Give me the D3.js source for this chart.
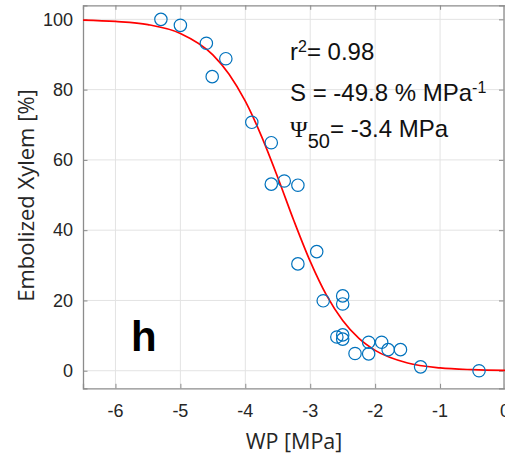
<!DOCTYPE html>
<html>
<head>
<meta charset="utf-8">
<script src="https://cdn.jsdelivr.net/npm/d3@7"></script>
<style>
  body { margin: 0; background: #fff; }
  svg { display: block; }
</style>
</head>
<body>
<script>
// measured points (water potential vs embolized xylem)
var wp = [-5.3, -5.0, -4.6, -4.3, -4.51, -3.9, -3.6, -3.6, -3.4, -3.19, -3.19, -2.9, -2.8, -2.5, -2.5,
          -2.59, -2.5, -2.5, -2.31, -2.1, -2.1, -1.9, -1.8, -1.61, -1.3, -0.4];
var plc = [100, 98.3, 93.2, 88.8, 83.7, 70.7, 64.9, 53.1, 54.0, 52.8, 30.4, 33.9, 19.9, 21.3, 19.0,
           9.6, 10.2, 9.0, 4.9, 8.1, 4.8, 8.1, 6.0, 6.0, 1.1, 0];

// fitted curve
var fitX = [-6.5, -6, -5.5, -5, -4.5, -4.25, -4, -3.75, -3.5, -3.25, -3, -2.75, -2.5, -2.25, -2, -1.5, -1, -0.5, 0];
var fitY = [99.8, 99.4, 98.5, 96.0, 89.9, 84.4, 76.7, 66.7, 55.0, 42.6, 31.1, 21.5, 14.3, 9.2, 5.8, 2.2, 0.8, 0.3, 0.1];

var xTicks = [-6, -5, -4, -3, -2, -1, 0];
var yTicks = [0, 20, 40, 60, 80, 100];

var W = 505, H = 454;
var plotL = 83, plotR = 505, plotT = 5.3, plotB = 388.3;
var axisCol = "#8c8c8c", textCol = "#262626";

var svg = d3.select("body").append("svg")
    .attr("width", W)
    .attr("height", H)
    .style("font-family", "'Liberation Sans', Arial, sans-serif");

var x = d3.scaleLinear().domain([-6.5, 0]).range([plotL, plotR]);
var y = d3.scaleLinear().domain([-5, 104]).range([plotB, plotT]);

// grid
svg.append("g").selectAll("line")
    .data(xTicks)
    .enter().append("line")
    .attr("x1", function (d) { return x(d); })
    .attr("x2", function (d) { return x(d); })
    .attr("y1", plotT)
    .attr("y2", plotB)
    .attr("stroke", "#e3e3e3")
    .attr("stroke-width", 1);

svg.append("g").selectAll("line")
    .data(yTicks)
    .enter().append("line")
    .attr("x1", plotL)
    .attr("x2", plotR)
    .attr("y1", function (d) { return y(d); })
    .attr("y2", function (d) { return y(d); })
    .attr("stroke", "#e3e3e3")
    .attr("stroke-width", 1);

// axes (ticks pointing inward, box on)
var xAxisB = d3.axisTop(x).tickValues(xTicks).tickSize(4.5).tickFormat("");
var xAxisT = d3.axisBottom(x).tickValues(xTicks).tickSize(4.5).tickFormat("");
var yAxisL = d3.axisRight(y).tickValues(yTicks).tickSize(4.5).tickFormat("");
var yAxisR = d3.axisLeft(y).tickValues(yTicks).tickSize(4.5).tickFormat("");

function styleAxis(g) {
    g.selectAll("path").attr("stroke", axisCol).attr("stroke-width", 1.3);
    g.selectAll("line").attr("stroke", axisCol).attr("stroke-width", 1);
}

svg.append("g").attr("transform", "translate(0," + plotB + ")").call(xAxisB).call(styleAxis);
svg.append("g").attr("transform", "translate(0," + plotT + ")").call(xAxisT).call(styleAxis);
svg.append("g").attr("transform", "translate(" + plotL + ",0)").call(yAxisL).call(styleAxis);
svg.append("g").attr("transform", "translate(" + (plotR - 1.5) + ",0)").call(yAxisR).call(styleAxis);

// tick labels
svg.append("g").selectAll("text")
    .data(xTicks)
    .enter().append("text")
    .attr("x", function (d) { return x(d); })
    .attr("y", plotB + 29)
    .attr("text-anchor", "middle")
    .attr("font-size", 18)
    .attr("fill", textCol)
    .text(function (d) { return d; });

svg.append("g").selectAll("text")
    .data(yTicks)
    .enter().append("text")
    .attr("x", plotL - 10)
    .attr("y", function (d) { return y(d) + 6.3; })
    .attr("text-anchor", "end")
    .attr("font-size", 18)
    .attr("fill", textCol)
    .text(function (d) { return d; });

// axis titles
svg.append("text")
    .attr("x", (plotL + plotR) / 2)
    .attr("y", 449)
    .attr("text-anchor", "middle")
    .attr("font-family", "'Open Sans', sans-serif")
    .attr("font-size", 21.5)
    .attr("fill", textCol)
    .text("WP [MPa]");

svg.append("text")
    .attr("transform", "translate(33.5,195.5) rotate(-90)")
    .attr("text-anchor", "middle")
    .attr("font-family", "'Open Sans', sans-serif")
    .attr("font-size", 22)
    .attr("fill", textCol)
    .text("Embolized Xylem [%]");

// fitted curve
svg.append("clipPath").attr("id", "plotclip")
    .append("rect")
    .attr("x", plotL).attr("y", plotT)
    .attr("width", plotR - plotL).attr("height", plotB - plotT);

var line = d3.line()
    .x(function (d, i) { return x(fitX[i]); })
    .y(function (d, i) { return y(fitY[i]); })
    .curve(d3.curveMonotoneX);

svg.append("path")
    .attr("d", line(fitX))
    .attr("fill", "none")
    .attr("stroke", "#ff0000")
    .attr("stroke-width", 1.7)
    .attr("clip-path", "url(#plotclip)");

// data points
svg.append("g").selectAll("circle")
    .data(wp)
    .enter().append("circle")
    .attr("cx", function (d) { return x(d); })
    .attr("cy", function (d, i) { return y(plc[i]); })
    .attr("r", 6.2)
    .attr("fill", "none")
    .attr("stroke", "#0072bd")
    .attr("stroke-width", 1.2);

// annotations
var ann = svg.append("g").attr("fill", "#111").attr("font-size", 24);

var t1 = ann.append("text").attr("x", 290).attr("y", 60);
t1.append("tspan").text("r");
t1.append("tspan").attr("dy", -8).attr("font-size", 16).text("2");
t1.append("tspan").attr("dy", 8).text("= 0.98");

var t2 = ann.append("text").attr("x", 290).attr("y", 101);
t2.append("tspan").text("S = -49.8 % MPa");
t2.append("tspan").attr("dy", -8).attr("font-size", 16).text("-1");

var t3 = ann.append("text").attr("x", 290).attr("y", 136.7);
t3.append("tspan").attr("font-family", "'Liberation Serif', 'Times New Roman', serif").text("\u03A8");
t3.append("tspan").attr("dy", 11.5).attr("font-size", 20).text("50");
t3.append("tspan").attr("dy", -11.5).text("= -3.4 MPa");

svg.append("text")
    .attr("x", 131)
    .attr("y", 351)
    .attr("font-family", "'Liberation Sans', Arial, sans-serif")
    .attr("font-weight", "bold")
    .attr("font-size", 42)
    .attr("fill", "#000")
    .text("h");
</script>
</body>
</html>
